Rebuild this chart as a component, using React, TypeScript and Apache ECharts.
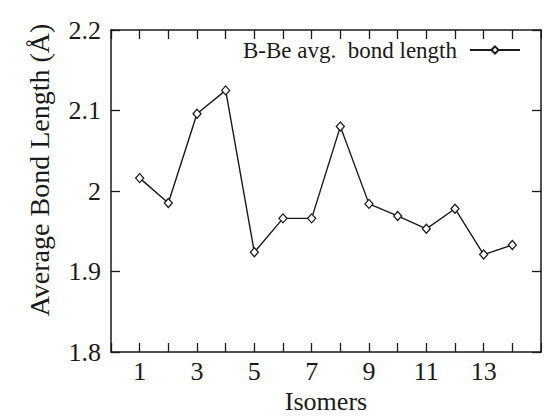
import React, { useEffect, useRef } from "react";
import * as echarts from "echarts";

const isomers = [1, 2, 3, 4, 5, 6, 7, 8, 9, 10, 11, 12, 13, 14];
const bondLength = [2.016, 1.985, 2.096, 2.125, 1.924, 1.966, 1.966, 2.08, 1.984, 1.969, 1.953, 1.978, 1.921, 1.933];
const seriesName = "B-Be avg.  bond length";
const xLabels = ["1", "3", "5", "7", "9", "11", "13"];
const yTitle = "Average Bond Length (Å)";
const xTitle = "Isomers";

const FONT = "Liberation Serif";
const INK = "#1a1a1a";

export default function App() {
  const ref = useRef<HTMLDivElement>(null);
  useEffect(() => {
    if (!ref.current) return;
    const chart = echarts.init(ref.current, undefined, { renderer: "svg" });
    const tickCommon = { show: true, inside: true, length: 9, lineStyle: { color: INK, width: 1.3 } };
    const lineCommon = { show: true, onZero: false, lineStyle: { color: INK, width: 1.5 } };
    chart.setOption({
      animation: false,
      backgroundColor: "#fff",
      textStyle: { fontFamily: FONT },
      grid: { left: 103, right: 17, top: 22, bottom: 74, containLabel: false },
      legend: {
        show: true,
        right: 37,
        top: 30,
        padding: 0,
        align: "right",
        itemWidth: 50,
        itemHeight: 9,
        itemGap: 0,
        textStyle: { fontFamily: FONT, fontSize: 23, color: INK, lineHeight: 24, padding: [0, 8, 0, 0] },
        data: [seriesName],
      },
      xAxis: [
        {
          type: "value",
          min: 0,
          max: 15,
          interval: 1,
          position: "bottom",
          name: xTitle,
          nameLocation: "middle",
          nameGap: 34,
          nameTextStyle: { fontFamily: FONT, fontSize: 26, color: INK },
          axisLine: lineCommon,
          axisTick: tickCommon,
          splitLine: { show: false },
          axisLabel: {
            fontFamily: FONT,
            fontSize: 26,
            color: INK,
            margin: 6,
            formatter: (v: number) => (xLabels.includes(String(v)) ? String(v) : ""),
          },
        },
        {
          type: "value",
          min: 0,
          max: 15,
          interval: 1,
          position: "top",
          axisLine: lineCommon,
          axisTick: tickCommon,
          splitLine: { show: false },
          axisLabel: { show: false },
        },
      ],
      yAxis: [
        {
          type: "value",
          min: 1.8,
          max: 2.2,
          interval: 0.1,
          position: "left",
          axisLine: lineCommon,
          axisTick: tickCommon,
          splitLine: { show: false },
          axisLabel: { fontFamily: FONT, fontSize: 26, color: INK, margin: 10 },
        },
        {
          type: "value",
          min: 1.8,
          max: 2.2,
          interval: 0.1,
          position: "right",
          axisLine: lineCommon,
          axisTick: tickCommon,
          splitLine: { show: false },
          axisLabel: { show: false },
        },
      ],
      graphic: [
        {
          type: "text",
          x: 31,
          y: 162,
          rotation: Math.PI / 2,
          style: {
            text: yTitle,
            fontFamily: FONT,
            fontSize: 28,
            fill: INK,
            align: "center",
            verticalAlign: "middle",
          },
        },
      ],
      series: [
        {
          name: seriesName,
          type: "line",
          xAxisIndex: 0,
          yAxisIndex: 0,
          data: isomers.map((x, i) => [x, bondLength[i]]),
          symbol: "diamond",
          symbolSize: [8, 9],
          showAllSymbol: true,
          lineStyle: { color: INK, width: 1.4 },
          itemStyle: { color: "#fff", borderColor: INK, borderWidth: 1.3 },
        },
      ],
    });
    return () => chart.dispose();
  }, []);
  return <div ref={ref} style={{ width: 550, height: 418 }} />;
}
